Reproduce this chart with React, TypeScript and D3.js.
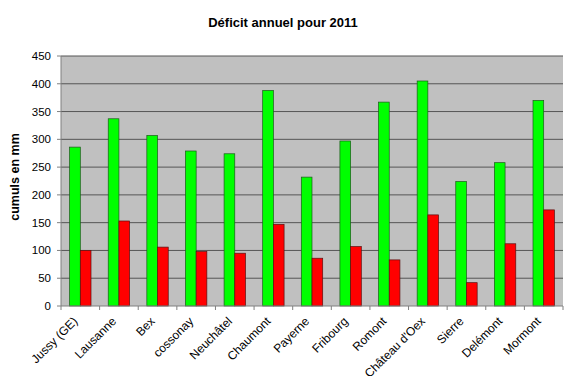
import React from "react";
import * as d3 from "d3";

const categories = ["Jussy (GE)", "Lausanne", "Bex", "cossonay", "Neuchâtel", "Chaumont", "Payerne", "Fribourg", "Romont", "Château d'Oex", "Sierre", "Delémont", "Mormont"];
const greenValues = [286, 337, 307, 279, 274, 388, 232, 297, 367, 405, 224, 258, 370];
const redValues = [100, 153, 106, 98, 95, 147, 86, 107, 83, 164, 42, 112, 173];
const yTicks = [0, 50, 100, 150, 200, 250, 300, 350, 400, 450];

const W = 567, H = 376;
const left = 61, right = 563, top = 56, bottom = 306;
const font = "Arial, 'Liberation Sans', sans-serif";

export default function App() {
  const x = d3.scaleBand<string>().domain(categories).range([left, right]).paddingInner(0).paddingOuter(0);
  const y = d3.scaleLinear().domain([0, 450]).range([bottom, top]);
  const bw = x.bandwidth() * 0.277;
  return (
    <svg width={W} height={H} style={{ position: "absolute", left: 0, top: 0, background: "#fff" }}>
      <text x={283} y={27} textAnchor="middle" fontFamily={font} fontWeight="bold" fontSize={13}>Déficit annuel pour 2011</text>
      <rect x={left} y={top} width={right - left} height={bottom - top} fill="#C0C0C0" />
      {yTicks.filter(t => t > 0).map(t => (
        <line key={t} x1={left} x2={right} y1={y(t)} y2={y(t)} stroke="#555" strokeWidth={1} />
      ))}
      {categories.map((c, i) => {
        const cx = x(c)! + x.bandwidth() / 2;
        return (
          <g key={c}>
            <rect x={cx - bw} y={y(greenValues[i])} width={bw} height={y(0) - y(greenValues[i])} fill="#00FF00" stroke="#1a5a1a" strokeWidth={0.7} />
            <rect x={cx} y={y(redValues[i])} width={bw} height={y(0) - y(redValues[i])} fill="#FF0000" stroke="#5a1010" strokeWidth={0.7} />
          </g>
        );
      })}
      <line x1={left} x2={left} y1={top} y2={bottom} stroke="#808080" />
      <line x1={left} x2={right} y1={bottom} y2={bottom} stroke="#808080" />
      {yTicks.map(t => (
        <g key={t}>
          <line x1={left - 4} x2={left} y1={y(t)} y2={y(t)} stroke="#808080" />
          <text x={left - 10} y={y(t) + 4} textAnchor="end" fontFamily={font} fontSize={11.5} fill="#000">{t}</text>
        </g>
      ))}
      {categories.map((c, i) => (
        <line key={"t" + i} x1={x(c)!} x2={x(c)!} y1={bottom} y2={bottom + 4} stroke="#808080" />
      ))}
      <line x1={right} x2={right} y1={bottom} y2={bottom + 4} stroke="#808080" />
      {categories.map(c => {
        const cx = x(c)! + x.bandwidth() / 2 - 2;
        return (
          <text key={"l" + c} transform={`translate(${cx},${bottom + 16}) rotate(-45)`} textAnchor="end" fontFamily={font} fontSize={12} fill="#000">{c}</text>
        );
      })}
      <text transform={`translate(19,177) rotate(-90)`} textAnchor="middle" fontFamily={font} fontWeight="bold" fontSize={12.5}>cumuls en mm</text>
    </svg>
  );
}
